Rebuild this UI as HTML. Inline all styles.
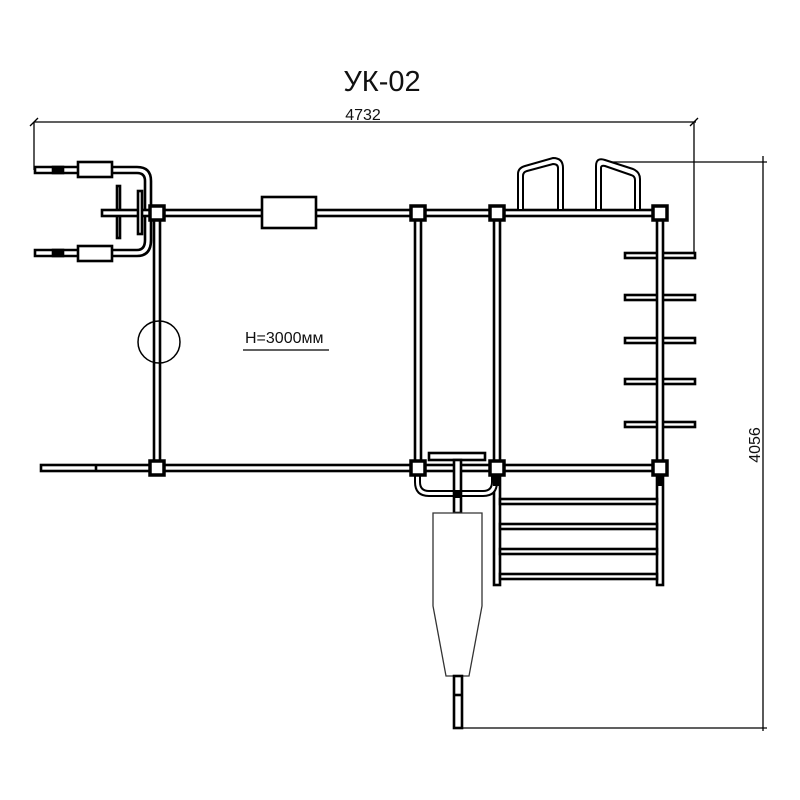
<!DOCTYPE html>
<html><head><meta charset="utf-8"><style>html,body{margin:0;padding:0;background:#fff}svg{display:block}</style></head>
<body>
<svg width="800" height="800" viewBox="0 0 800 800" xmlns="http://www.w3.org/2000/svg">
<g font-family="'Liberation Sans',sans-serif" fill="#111">
<text x="382" y="91" font-size="29" text-anchor="middle">УК-02</text>
<text x="363" y="120" font-size="16" text-anchor="middle">4732</text>
<text x="0" y="0" font-size="16" text-anchor="middle" transform="translate(760,445) rotate(-90)">4056</text>
<text x="245" y="343" font-size="16">H=3000мм</text>
</g>
<g stroke="#000" fill="none" stroke-width="1.3">
<line x1="34" y1="122" x2="696" y2="122"/>
<line x1="34" y1="122" x2="34" y2="170"/>
<line x1="694" y1="122" x2="694" y2="258"/>
<line x1="30" y1="126" x2="38" y2="118"/>
<line x1="690" y1="126" x2="698" y2="118"/>
<line x1="763" y1="156" x2="763" y2="731"/>
<line x1="610" y1="162" x2="767" y2="162"/>
<line x1="463" y1="728" x2="767" y2="728"/>
<line x1="243" y1="350" x2="329" y2="350"/>
</g>
<g stroke="#000" fill="#fff" stroke-width="2.6">
<path d="M35 167 H137 Q151 167 151 181 V240 Q151 256 137 256 H35 V250 H137 Q145 250 145 240 V181 Q145 173 137 173 H35 Z"/>
<rect x="78" y="162" width="34" height="15"/>
<rect x="78" y="246" width="34" height="15"/>
<rect x="53" y="167" width="10" height="6" fill="#000"/>
<rect x="53" y="250" width="10" height="6" fill="#000"/>
<rect x="117" y="186" width="3" height="52"/>
<rect x="102" y="210" width="50" height="6"/>
<rect x="138" y="191" width="4" height="43"/>
<rect x="150" y="210" width="512" height="6"/>
<rect x="262" y="197" width="54" height="31"/>
<rect x="154" y="213" width="6" height="255"/>
<rect x="415" y="213" width="6" height="255"/>
<rect x="494" y="213" width="6" height="372"/>
<rect x="41" y="465" width="622" height="6"/>
<line x1="96" y1="465" x2="96" y2="471"/>
<circle cx="159" cy="342" r="21" fill="none" stroke-width="1.5"/>
<rect x="625" y="253" width="70" height="5"/>
<rect x="625" y="295" width="70" height="5"/>
<rect x="625" y="338" width="70" height="5"/>
<rect x="625" y="379" width="70" height="5"/>
<rect x="625" y="422" width="70" height="5"/>
<rect x="657" y="213" width="6" height="372"/>
<path d="M518 210 V174 Q518 168 525 166 L553 158 Q563 158 563 168 V210 H558 V168 Q558 164 553 164 L527 171 Q523 172 523 176 V210 Z" stroke-width="2"/>
<path d="M596 210 V166 Q596 157 605 160 L633 169 Q640 172 640 179 V210 H635 V180 Q635 176 631 175 L605 166 Q601 165 601 168 V210 Z" stroke-width="2"/>
<rect x="500" y="499" width="157" height="5"/>
<rect x="500" y="524" width="157" height="5"/>
<rect x="500" y="549" width="157" height="5"/>
<rect x="500" y="574" width="157" height="5"/>
<path d="M415 471 V482 Q415 496 429 496 H483 Q497 496 497 482 V471 H492 V482 Q492 491 483 491 H429 Q420 491 420 482 V471 Z" stroke-width="2"/>
<rect x="429" y="453" width="56" height="7"/>
<rect x="454" y="460" width="7" height="53"/>
<path d="M433 513 H482 V606 L469 676 H446 L433 606 Z" stroke-width="1.3" stroke="#333"/>
<rect x="454" y="676" width="8" height="52"/>
<line x1="454" y1="695" x2="462" y2="695"/>
</g>
<g fill="#fff" stroke="#000" stroke-width="3.5">
<rect x="150" y="206" width="14" height="14"/>
<rect x="411" y="206" width="14" height="14"/>
<rect x="490" y="206" width="14" height="14"/>
<rect x="653" y="206" width="14" height="14"/>
<rect x="150" y="461" width="14" height="14"/>
<rect x="411" y="461" width="14" height="14"/>
<rect x="490" y="461" width="14" height="14"/>
<rect x="653" y="461" width="14" height="14"/>
</g>
<g fill="#000">
<rect x="493" y="476" width="7" height="10"/>
<rect x="657" y="476" width="6" height="10"/>
<rect x="455" y="490" width="6" height="8"/>
</g>
</svg>
</body></html>
